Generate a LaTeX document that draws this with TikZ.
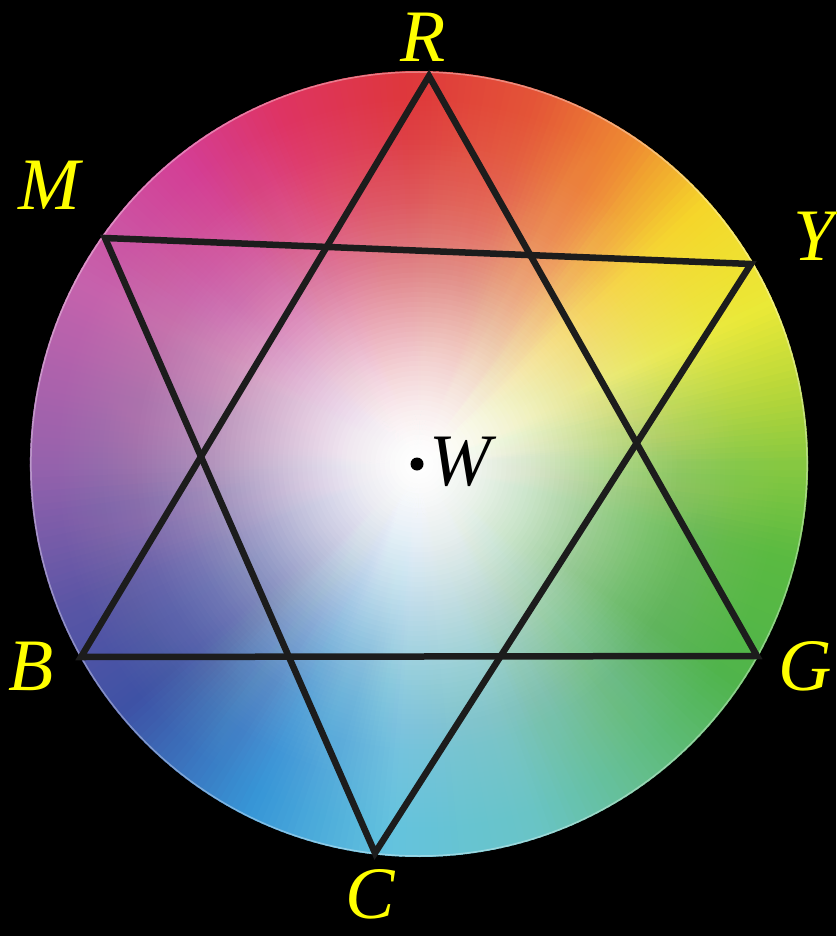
\documentclass[tikz,border=0pt]{standalone}
\usepackage{fontspec}
\setmainfont{Liberation Serif}
\definecolor{labyellow}{RGB}{255,255,0}
\definecolor{triline}{RGB}{28,28,28}
\definecolor{hA}{RGB}{135,200,65}
\definecolor{hB}{RGB}{178,213,58}
\definecolor{hC}{RGB}{234,233,55}
\definecolor{hD}{RGB}{245,214,42}
\definecolor{hE}{RGB}{238,140,50}
\definecolor{hF}{RGB}{228,85,55}
\definecolor{hG}{RGB}{222,55,60}
\definecolor{hH}{RGB}{222,52,100}
\definecolor{hI}{RGB}{212,62,148}
\definecolor{hJ}{RGB}{198,98,172}
\definecolor{hK}{RGB}{150,98,172}
\definecolor{hL}{RGB}{90,85,165}
\definecolor{hM}{RGB}{62,82,165}
\definecolor{hN}{RGB}{55,150,215}
\definecolor{hO}{RGB}{100,195,222}
\definecolor{hP}{RGB}{105,196,198}
\definecolor{hQ}{RGB}{100,190,140}
\definecolor{hR}{RGB}{80,180,75}
\definecolor{hS}{RGB}{90,186,65}
\tikzset{
  lab/.style={text=labyellow, font=\fontsize{74}{80}\selectfont\itshape, inner sep=0pt, anchor=base},
  tri/.style={draw=triline, line width=6.5pt, line join=miter},
}
\begin{document}
\begin{tikzpicture}[x=1pt,y=-1pt]
\fill[black] (0,0) rectangle (836,936);
\useasboundingbox (0,0) rectangle (836,936);
\begin{scope}[shift={(419,464)}, yscale=-1, xscale=0.99]
  \foreach \a/\b/\ca/\cb in {0/10/hA/hB, 10/24/hB/hC, 24/42/hC/hD, 42/56/hD/hE, 56/72/hE/hF, 72/92/hF/hG, 92/112/hG/hH, 112/128/hH/hI, 128/152/hI/hJ, 152/180/hJ/hK, 180/202/hK/hL, 202/220/hL/hM, 220/244/hM/hN, 244/266/hN/hO, 266/288/hO/hP, 288/306/hP/hQ, 306/326/hQ/hR, 326/346/hR/hS, 346/360/hS/hA}{
    \pgfmathtruncatemacro\n{\b-\a}
    \foreach \i in {1,...,\n}{
      \pgfmathsetmacro\t{\a+\i-1}
      \pgfmathtruncatemacro\p{100-100*(\i-0.5)/\n}
      \fill[\ca!\p!\cb] (0,0) -- (\t:393) arc[start angle=\t, end angle=\t+1.5, radius=393] -- cycle;
    }
  }
  % white centre: nested discs whose opacities build up a smooth profile
  \foreach \k in {0,...,79}{
    \pgfmathsetmacro\rr{4.9125*(80-\k)}
    \pgfmathsetmacro\tm{(80-\k-0.5)/80}
    \pgfmathsetmacro\oin{exp(-(\tm/0.58)*(\tm/0.58))}
    \pgfmathsetmacro\oout{exp(-((\tm+0.0125)/0.58)*((\tm+0.0125)/0.58))}
    \pgfmathsetmacro\den{max(1-\oout,0.002)}
    \pgfmathsetmacro\num{max(1-\oin,0)}
    \pgfmathsetmacro\aa{max(0,min(1,1-\num/\den))}
    \fill[white, opacity=\aa] (0,0) circle[radius=\rr];
  }
  \draw[white, opacity=0.35, line width=1.5pt] (0,0) circle[radius=392];
\end{scope}
\coordinate (vR) at (429,76);
\coordinate (vG) at (757,656);
\coordinate (vB) at (81,657);
\coordinate (vM) at (105,238);
\coordinate (vY) at (751,264);
\coordinate (vC) at (375,853);
\draw[tri] (vR) -- (vG) -- (vB) -- cycle;
\draw[tri] (vM) -- (vY) -- (vC) -- cycle;
\node[circle, fill=black, inner sep=0pt, minimum size=13pt] (wdot) at (417,464) {};
\node[lab, text=black] (labW) at (460,485) {W};
\node[lab] (labR) at (423,62) {R};
\node[lab] (labM) at (49,209) {M};
\node[lab] (labY) at (814,260) {Y};
\node[lab] (labB) at (31,690) {B};
\node[lab] (labG) at (805,690) {G};
\node[lab] (labC) at (370,918) {C};
\end{tikzpicture}
\end{document}
